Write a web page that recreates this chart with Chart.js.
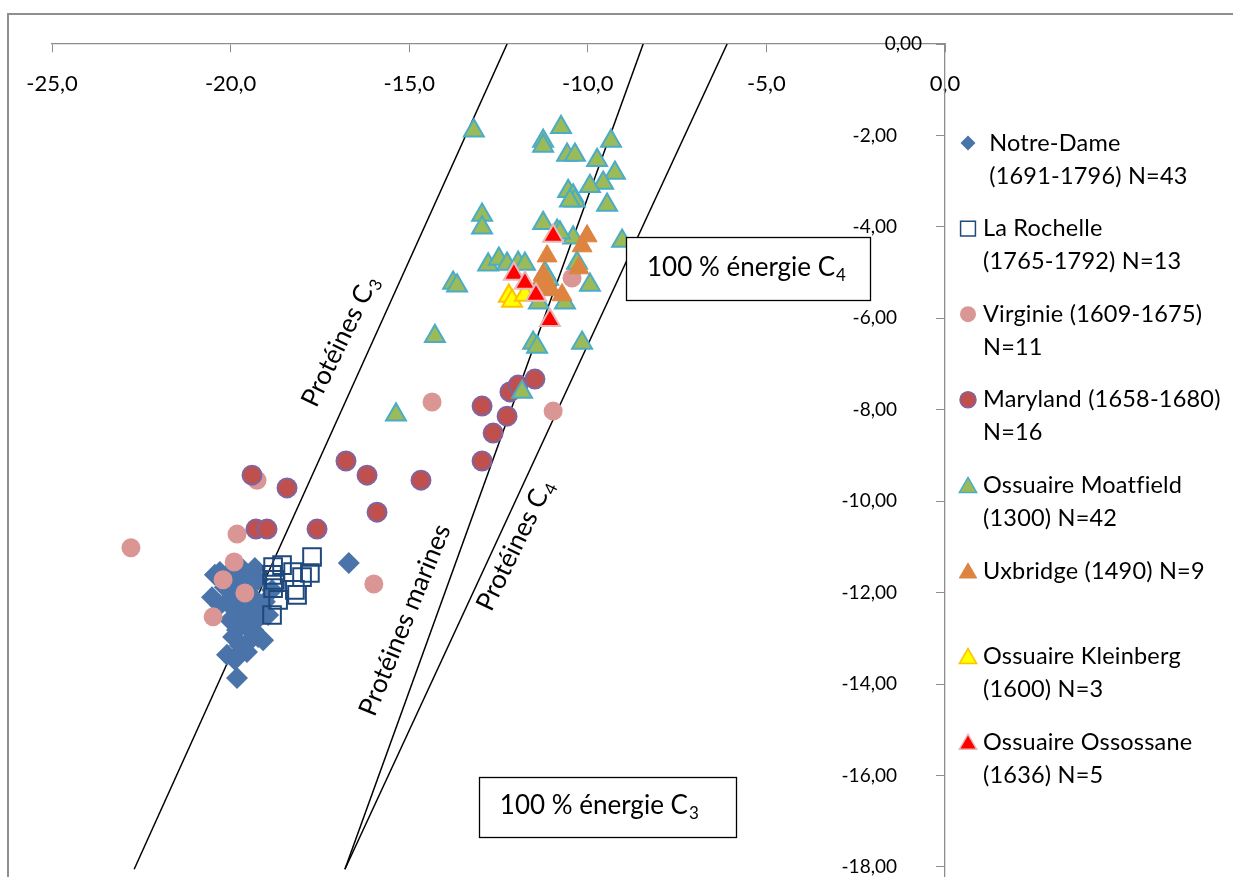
<!DOCTYPE html>
<html><head><meta charset="utf-8">
<script src="https://cdn.jsdelivr.net/npm/chart.js@4/dist/chart.umd.min.js"></script>
<style>html,body{margin:0;padding:0;background:#fff;overflow:hidden}#wrap{width:1233px;height:877px;position:relative}</style>
</head><body><div id="wrap"><canvas id="c" width="1233" height="877"></canvas></div>
<script>
// ---- tick values ----
const xTicks = [-25, -20, -15, -10, -5, 0];
const yTicks = [0, -2, -4, -6, -8, -10, -12, -14, -16, -18];

// ---- series names ----
const seriesNames = ["Notre-Dame (1691-1796) N=43", "La Rochelle (1765-1792) N=13", "Virginie (1609-1675) N=11",
  "Maryland (1658-1680) N=16", "Ossuaire Moatfield (1300) N=42", "Uxbridge (1490) N=9",
  "Ossuaire Kleinberg (1600) N=3", "Ossuaire Ossossane (1636) N=5"];
const legendLines = [[" Notre-Dame", " (1691-1796) N=43"], ["La Rochelle", "(1765-1792) N=13"],
  ["Virginie (1609-1675)", "N=11"], ["Maryland (1658-1680)", "N=16"], ["Ossuaire Moatfield", "(1300) N=42"],
  ["Uxbridge (1490) N=9"], ["Ossuaire Kleinberg", "(1600) N=3"], ["Ossuaire Ossossane", "(1636) N=5"]];

// ---- data ----
const notreDameX = [-20.52,-20.30,-19.88,-19.32,-16.69,-20.10,-19.74,-19.37,-19.18,-19.74,-19.93,-19.09,-19.54,-20.10,-19.82,-18.84,-19.54,-19.37,-20.02,-19.60,-19.46,-19.88,-19.65,-20.16,-19.23,-19.04,-19.60,-19.82,-19.37,-19.74,-19.23,-20.44,-19.93,-19.54,-19.18,-19.88,-19.46,-20.02,-19.65,-19.32,-19.60,-18.95,-20.30];
const notreDameY = [-12.10,-11.55,-11.44,-11.46,-11.35,-12.20,-11.88,-12.10,-12.53,-12.60,-12.97,-13.04,-13.30,-13.36,-13.87,-11.94,-12.75,-12.38,-11.72,-11.61,-12.27,-12.38,-12.16,-11.88,-11.72,-12.20,-12.49,-12.82,-12.82,-13.15,-12.97,-11.61,-12.16,-11.94,-12.27,-13.47,-13.04,-12.60,-11.50,-12.60,-13.15,-12.49,-12.27];
const laRochelleX = [-17.72,-18.81,-18.56,-18.25,-17.78,-18.00,-18.84,-18.20,-18.76,-18.81,-18.67,-18.14,-18.84];
const laRochelleY = [-11.22,-11.44,-11.40,-11.55,-11.57,-11.66,-11.61,-11.94,-11.72,-11.90,-12.16,-12.05,-12.49];
const virginieX = [-22.79,-19.82,-19.26,-19.90,-20.21,-19.60,-20.49,-15.99,-14.36,-10.97,-10.44];
const virginieY = [-11.02,-10.72,-9.54,-11.33,-11.72,-12.01,-12.53,-11.81,-7.83,-8.03,-5.12];
const marylandX = [-19.40,-18.42,-19.29,-18.98,-17.58,-16.77,-16.18,-15.90,-14.67,-12.96,-12.26,-12.65,-12.96,-12.18,-11.48,-11.95];
const marylandY = [-9.43,-9.71,-10.61,-10.61,-10.61,-9.12,-9.43,-10.24,-9.54,-7.92,-8.14,-8.51,-9.12,-7.61,-7.33,-7.46];
const moatfieldX = [-13.19,-10.75,-11.25,-11.25,-10.58,-10.36,-9.35,-9.74,-9.24,-9.57,-9.94,-10.55,-10.41,-10.36,-9.46,-12.96,-12.96,-11.25,-9.04,-10.86,-10.41,-12.79,-12.49,-12.26,-11.95,-11.76,-13.77,-13.66,-10.30,-9.94,-11.37,-10.64,-14.28,-11.53,-10.16,-15.37,-11.84,-11.20,-10.78,-11.42,-10.50,-11.11];
const moatfieldY = [-1.90,-1.82,-2.12,-2.23,-2.43,-2.43,-2.12,-2.54,-2.82,-3.04,-3.11,-3.22,-3.32,-3.43,-3.52,-3.74,-4.02,-3.92,-4.31,-4.09,-4.24,-4.83,-4.70,-4.81,-4.79,-4.81,-5.23,-5.29,-4.79,-5.27,-5.66,-5.66,-6.39,-6.54,-6.54,-8.11,-7.61,-5.01,-4.13,-6.63,-3.43,-5.14];
const uxbridgeX = [-10.02,-10.16,-11.14,-10.25,-11.25,-11.34,-11.03,-10.72,-11.17];
const uxbridgeY = [-4.20,-4.42,-4.64,-4.90,-5.05,-5.23,-5.38,-5.49,-5.29];
const kleinbergX = [-12.21,-12.12,-11.76];
const kleinbergY = [-5.51,-5.62,-5.49];
const ossossaneX = [-10.97,-12.07,-11.76,-11.45,-11.06];
const ossossaneY = [-4.20,-5.03,-5.23,-5.49,-6.04];

// ---- reference lines ----
const c3LineX = [-22.70, -12.26];
const c3LineY = [-18.05, 0];
const marineLineX = [-16.80, -8.45];
const marineLineY = [-18.05, 0];
const c4LineX = [-16.80, -6.10];
const c4LineY = [-18.05, 0];

// ---- annotations (data coordinates) ----
const lineLabels = [
  {text: "Protéines C", sub: "3", x: -16.94, y: -6.50, angle: -64},
  {text: "Protéines marines", sub: "", x: -15.12, y: -12.60, angle: -68},
  {text: "Protéines C", sub: "4", x: -12.04, y: -10.96, angle: -64}
];
const boxLabels = [
  {text: "100 % énergie C", sub: "4", x0: -8.93, y0: -4.22, x1: -2.10, y1: -5.60},
  {text: "100 % énergie C", sub: "3", x0: -13.05, y0: -16.03, x1: -5.85, y1: -17.34}
];

const zip = (xs, ys) => xs.map((x, i) => ({x, y: ys[i]}));
const FONT = "Lato, 'Open Sans', sans-serif";
const AXIS_GREY = '#8E8E8E';

function lineDs(xs, ys) {
  return {type: 'scatter', data: zip(xs, ys), showLine: true, borderColor: '#000', borderWidth: 1.5,
    pointRadius: 0, fill: false, order: 20, label: ''};
}
function ptDs(i, xs, ys, style, r, bg, bc, bw) {
  return {label: seriesNames[i], data: zip(xs, ys), pointStyle: style, pointRadius: r,
    pointBackgroundColor: bg, pointBorderColor: bc, pointBorderWidth: bw,
    backgroundColor: bg, borderColor: bc, borderWidth: bw, order: 10 - i, showLine: false};
}

const datasets = [
  ptDs(0, notreDameX, notreDameY, 'rectRot', 11, '#4A74A9', '#4A74A9', 0),
  ptDs(1, laRochelleX, laRochelleY, 'rect', 12.5, 'rgba(0,0,0,0)', '#1F497D', 2),
  ptDs(2, virginieX, virginieY, 'circle', 9.5, '#D99694', '#D99694', 0),
  ptDs(3, marylandX, marylandY, 'circle', 9.5, '#C0504D', '#8064A2', 2),
  ptDs(4, moatfieldX, moatfieldY, 'triangle', 11.5, '#9BBB59', '#4BACC6', 2),
  ptDs(5, uxbridgeX, uxbridgeY, 'triangle', 11.5, '#DD8540', '#DD8540', 1),
  ptDs(6, kleinbergX, kleinbergY, 'triangle', 11.5, '#FFFF00', '#FFC000', 2),
  ptDs(7, ossossaneX, ossossaneY, 'triangle', 11.5, '#FF0000', '#E6B9B8', 2),
  lineDs(c3LineX, c3LineY), lineDs(marineLineX, marineLineY), lineDs(c4LineX, c4LineY)
];

function drawSubText(ctx, main, sub, x, y, size, align) {
  const subSize = Math.round(size * 0.66);
  ctx.font = size + 'px ' + FONT;
  const w1 = ctx.measureText(main).width;
  ctx.font = subSize + 'px ' + FONT;
  const w2 = sub ? ctx.measureText(sub).width + 1 : 0;
  let sx = x;
  if (align === 'center') sx = x - (w1 + w2) / 2;
  ctx.textAlign = 'left';
  ctx.textBaseline = 'middle';
  ctx.font = size + 'px ' + FONT;
  ctx.fillText(main, sx, y);
  if (sub) {
    ctx.font = subSize + 'px ' + FONT;
    ctx.fillText(sub, sx + w1 + 1, y + size * 0.3);
  }
}

const Y_LABEL_GAP = 48; // labels of the vertical axis sit left of the axis line

const decor = {
  id: 'decor',
  beforeDraw(chart) {
    const ctx = chart.ctx;
    ctx.save();
    ctx.fillStyle = '#fff';
    ctx.fillRect(0, 0, chart.width, chart.height);
    ctx.strokeStyle = AXIS_GREY;
    ctx.lineWidth = 2;
    ctx.strokeRect(8, 14, 1400, 1000);
    ctx.restore();
    const items = chart.scales.y.getLabelItems();
    items.forEach(it => {
      if (!it._moved) { it.options.translation[0] -= Y_LABEL_GAP; it._moved = true; }
    });
  },
  afterDraw(chart) {
    const ctx = chart.ctx;
    const xs = chart.scales.x, ys = chart.scales.y;
    ctx.save();
    ctx.fillStyle = '#000';
    ctx.font = '19px ' + FONT;
    ctx.textAlign = 'right'; ctx.textBaseline = 'middle';
    ctx.fillText((0).toFixed(2).replace('.', ','), xs.getPixelForValue(0) - 23, ys.getPixelForValue(0));
    for (const l of lineLabels) {
      ctx.save();
      ctx.translate(xs.getPixelForValue(l.x), ys.getPixelForValue(l.y));
      ctx.rotate(l.angle * Math.PI / 180);
      ctx.fillStyle = '#000';
      drawSubText(ctx, l.text, l.sub, 0, 0, 26, 'center');
      ctx.restore();
    }
    for (const b of boxLabels) {
      const x0 = xs.getPixelForValue(b.x0), x1 = xs.getPixelForValue(b.x1);
      const y0 = ys.getPixelForValue(b.y0), y1 = ys.getPixelForValue(b.y1);
      ctx.fillStyle = '#fff';
      ctx.fillRect(x0, y0, x1 - x0, y1 - y0);
      ctx.strokeStyle = '#000'; ctx.lineWidth = 1.3;
      ctx.strokeRect(Math.round(x0) + 0.5, Math.round(y0) + 0.5, Math.round(x1 - x0), Math.round(y1 - y0));
      ctx.fillStyle = '#000';
      drawSubText(ctx, b.text, b.sub, x0 + 21, (y0 + y1) / 2 - 1, 26, 'left');
    }
    const startY = 143, step = 85.6, lineGap = 33, mx = 968, tx = 983;
    const sizes = {rectRot: 7.5, rect: 10.5, circle: 8, triangle: 10};
    legendLines.forEach((lines, i) => {
      const ds = chart.data.datasets[i];
      const y = startY + i * step;
      ctx.save();
      ctx.fillStyle = ds.pointBackgroundColor;
      ctx.strokeStyle = ds.pointBorderColor;
      ctx.lineWidth = Math.min(ds.pointBorderWidth, 1.5);
      Chart.helpers.drawPoint(ctx, {pointStyle: ds.pointStyle, radius: sizes[ds.pointStyle],
        borderWidth: ds.pointBorderWidth, rotation: 0}, mx, ds.pointStyle === 'triangle' ? y + 2 : y);
      ctx.restore();
      ctx.save();
      ctx.fillStyle = '#000';
      ctx.font = '23.5px ' + FONT;
      try { ctx.letterSpacing = '0.2px'; } catch (e) {}
      ctx.textAlign = 'left'; ctx.textBaseline = 'middle';
      lines.forEach((t, k) => ctx.fillText(t, tx, y + k * lineGap));
      ctx.restore();
    });
    ctx.restore();
  }
};

new Chart(document.getElementById('c'), {
  type: 'scatter',
  data: {datasets},
  plugins: [decor],
  options: {
    responsive: false, animation: false, events: [],
    layout: {autoPadding: false, padding: {left: 52, right: 288, top: 44, bottom: 0}},
    plugins: {legend: {display: false}, tooltip: {enabled: false}},
    scales: {
      x: {
        type: 'linear', position: {y: 0}, min: -25, max: 0,
        afterBuildTicks: s => { s.ticks = xTicks.map(v => ({value: v})); },
        afterFit: s => { s.paddingLeft = 0; s.paddingRight = 0; s.paddingTop = 0; s.paddingBottom = 0; },
        grid: {drawOnChartArea: false, drawTicks: true, tickLength: 8, color: AXIS_GREY},
        border: {display: true, color: AXIS_GREY, width: 1.3},
        ticks: {color: '#000', font: {family: FONT, size: 22}, padding: 19, maxRotation: 0,
          callback: v => v.toFixed(1).replace('.', ',')}
      },
      y: {
        type: 'linear', position: {x: 0}, min: -18.22, max: 0,
        afterBuildTicks: s => { s.ticks = yTicks.map(v => ({value: v})); },
        afterFit: s => { s.paddingLeft = 0; s.paddingRight = 0; s.paddingTop = 0; s.paddingBottom = 0; },
        grid: {drawOnChartArea: false, drawTicks: true, tickLength: 8, color: AXIS_GREY},
        border: {display: true, color: AXIS_GREY, width: 1.3},
        ticks: {color: '#000', font: {family: FONT, size: 19}, padding: 0,
          callback: v => v === 0 ? '' : v.toFixed(2).replace('.', ',')}
      }
    }
  }
});
</script>
</body></html>
